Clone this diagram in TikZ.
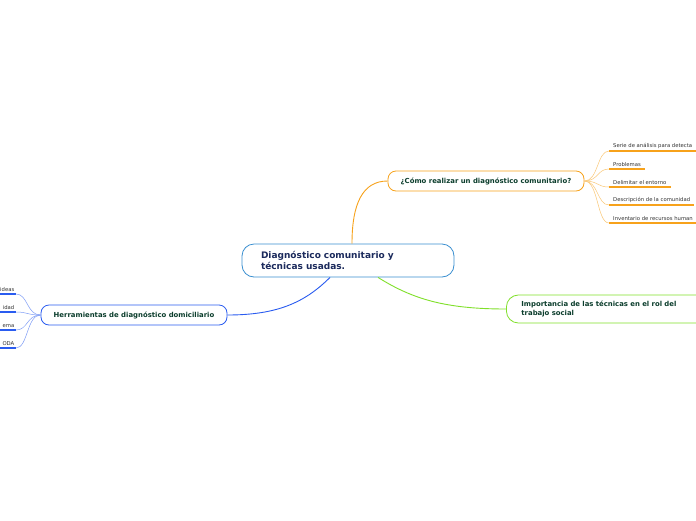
\documentclass[tikz,border=0pt]{standalone}
\usepackage{fontspec}
\setmainfont{DejaVu Sans}
\usepackage{xcolor}
\usetikzlibrary{positioning,calc}

\definecolor{mapnavy}{HTML}{1B2A5C}
\definecolor{mapgreen}{HTML}{0B3D2C}
\definecolor{ctrline}{HTML}{3A8FD0}
\definecolor{orgline}{HTML}{F7A21B}
\definecolor{bluline}{HTML}{2A5CF0}
\definecolor{limline}{HTML}{80E02A}

\begin{document}
\begin{tikzpicture}[
  x=1pt, y=-1pt,
  ctrbox/.style={draw=ctrline, line width=0.8pt, rounded corners=12pt, fill=white,
                 align=left, text=mapnavy, font=\fontsize{9}{11}\selectfont\bfseries,
                 inner xsep=19pt, text width=174pt, minimum height=33pt},
  subbox/.style={draw, line width=0.8pt, rounded corners=8pt, fill=white,
                 text=mapgreen, font=\fontsize{6.9}{9}\selectfont\bfseries,
                 minimum height=20pt},
  leaf/.style={font=\fontsize{5.3}{6}\selectfont, text=black!80, inner xsep=4pt, inner ysep=2pt},
  trunk/.style={line width=0.9pt},
  twig/.style={line width=0.5pt},
  under/.style={line width=1.6pt}
]
\useasboundingbox[fill=white] (0,0) rectangle (696,520);

% central topic
\node[ctrbox] (ctr) at (348,260.5) {Diagnóstico comunitario y\\técnicas usadas.};

% main branches
\node[subbox, draw=orgline, minimum width=196pt] (how) at (486,181)
  {¿Cómo realizar un diagnóstico comunitario?};
\node[subbox, draw=bluline, minimum width=186pt] (tools) at (134,315)
  {Herramientas de diagnóstico domiciliario};
\node[subbox, draw=limline, rounded corners=12pt, align=left, anchor=west,
      inner xsep=15pt, text width=190pt, minimum height=28pt,
      font=\fontsize{6.9}{8.8}\selectfont\bfseries] (imp) at (506,309)
  {Importancia de las técnicas en el rol del\\trabajo social};

\draw[trunk, orgline] ([xshift=4pt]ctr.north) .. controls +(0,-40) and +(-25,0) .. (how.west);
\draw[trunk, bluline] ([xshift=-18pt]ctr.south) .. controls +(-25,25) and +(50,0) .. (tools.east);
\draw[trunk, limline] ([xshift=30pt]ctr.south) .. controls +(35,22) and +(-60,0) .. (imp.west);

% leaves of the orange branch
\foreach \name/\yy/\txt in {h1/151/Serie de análisis para detecta,
                            h2/169/Problemas,
                            h3/187/Delimitar el entorno,
                            h4/205/Descripción de la comunidad,
                            h5/223/Inventario de recursos human} {
  \node[leaf, anchor=south west] (\name) at (609,\yy) {\txt};
  \draw[under, orgline] (\name.south west) -- (\name.south east);
  \draw[twig, orgline!60] (how.east) .. controls +(14,0) and +(-12,0) .. (\name.south west);
}

% leaves of the blue branch (cut by the page edge)
\foreach \name/\yy/\txt in {t1/294/ideas,
                            t2/312/idad,
                            t3/330/ema,
                            t4/348/ODA} {
  \node[leaf, anchor=south east, inner xsep=1.5pt] (\name) at (16,\yy) {\txt};
  \draw[under, bluline] ([xshift=-12pt]\name.south west) -- (\name.south east);
  \draw[twig, bluline!60] (tools.west) .. controls +(-14,0) and +(12,0) .. (\name.south east);
}
\end{tikzpicture}
\end{document}
